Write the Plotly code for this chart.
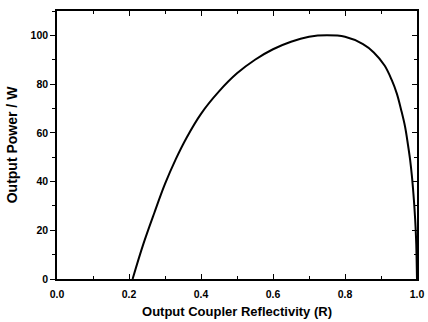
import plotly.graph_objects as go

reflectivity = [0.210, 0.240, 0.270, 0.300, 0.330, 0.360, 0.400, 0.450, 0.500, 0.550,
                0.600, 0.650, 0.700, 0.750, 0.800, 0.850, 0.880, 0.910, 0.930, 0.944,
                0.956, 0.967, 0.975, 0.981, 0.986, 0.990, 0.993, 0.996, 0.998, 1.000]
power = [0.0, 14.4, 27.0, 39.0, 49.2, 58.0, 67.8, 77.0, 84.4, 90.0,
         94.3, 97.4, 99.4, 100.0, 99.4, 96.4, 93.0, 87.6, 81.6, 76.1,
         69.4, 62.4, 55.0, 48.8, 42.0, 35.1, 29.0, 21.4, 14.0, 0.0]

x_range = [0, 1.0]
y_range = [0, 110]

FONT = "Liberation Sans, Arial, sans-serif"

fig = go.Figure()
fig.add_trace(go.Scatter(x=reflectivity, y=power, mode="lines",
                         line=dict(color="black", width=2, shape="spline", smoothing=1.0),
                         showlegend=False, hoverinfo="skip"))
# invisible trace on secondary y-axis for inward ticks on the right side
fig.add_trace(go.Scatter(x=[None], y=[None], yaxis="y2", showlegend=False))

fig.update_layout(
    width=428, height=322,
    margin=dict(l=57, r=11, t=11, b=43),
    paper_bgcolor="white", plot_bgcolor="white",
    font=dict(family=FONT, color="black"),
    xaxis=dict(
        range=x_range, tick0=0, dtick=0.2, tickformat=".1f", automargin=False,
        ticks="inside", ticklen=5, tickwidth=1.2, tickcolor="black",
        minor=dict(dtick=0.1, tick0=0, ticks="inside", ticklen=3, tickwidth=1, tickcolor="black"),
        showline=True, linecolor="black", linewidth=1.5, mirror="ticks",
        showgrid=False, zeroline=False, ticklabelstandoff=5,
        tickfont=dict(size=10.5, family=FONT, weight="bold"),
        title=dict(text="<b>Output Coupler Reflectivity (R)</b>", font=dict(size=13, family=FONT), standoff=8),
    ),
    yaxis=dict(
        range=y_range, tick0=0, dtick=20, automargin=False,
        ticks="outside", ticklen=5, tickwidth=1.2, tickcolor="black",
        minor=dict(dtick=10, tick0=0, ticks="outside", ticklen=3, tickwidth=1, tickcolor="black"),
        showline=True, linecolor="black", linewidth=1.5, mirror=True,
        showgrid=False, zeroline=False,
        tickfont=dict(size=10.5, family=FONT, weight="bold"),
        title=dict(text="<b>Output Power / W</b>", font=dict(size=14, family=FONT), standoff=10),
    ),
    yaxis2=dict(
        overlaying="y", side="right", range=y_range, tick0=0, dtick=20, automargin=False,
        ticks="inside", ticklen=5, tickwidth=1.2, tickcolor="black",
        minor=dict(dtick=10, tick0=0, ticks="inside", ticklen=3, tickwidth=1, tickcolor="black"),
        showticklabels=False, showline=False, showgrid=False, zeroline=False,
    ),
)

fig.write_html("out.html")
